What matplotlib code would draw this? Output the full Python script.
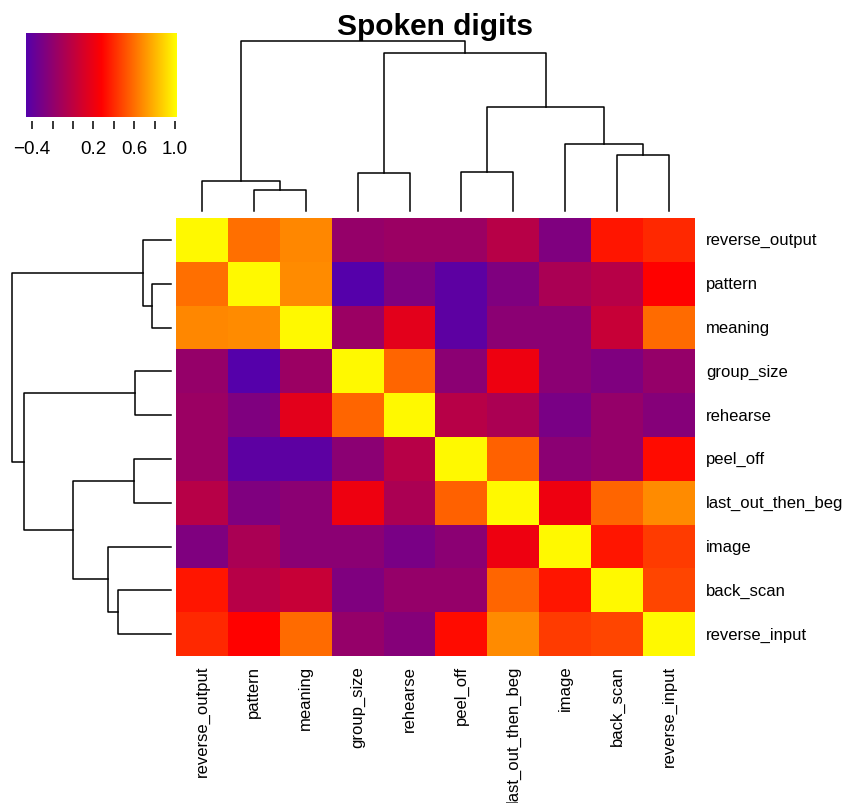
import numpy as np
import matplotlib

matplotlib.use("Agg")
import matplotlib.pyplot as plt
from matplotlib.colors import LinearSegmentedColormap

plt.rcParams["font.family"] = ["Liberation Sans", "DejaVu Sans"]

# ---------------------------------------------------------------------------
# Data (rows/columns already in dendrogram order)
# ---------------------------------------------------------------------------
labels = ["reverse_output", "pattern", "meaning", "group_size", "rehearse",
          "peel_off", "last_out_then_beg", "image", "back_scan", "reverse_input"]

# upper triangle of the correlation matrix, read row by row
upper = [
    [0.60, 0.67, -0.18, -0.15, -0.15, -0.03, -0.27, 0.34, 0.40],
    [0.68, -0.46, -0.27, -0.42, -0.27, -0.09, -0.03, 0.28],
    [-0.15, 0.16, -0.42, -0.22, -0.22, 0.04, 0.59],
    [0.57, -0.22, 0.21, -0.22, -0.27, -0.18],
    [-0.03, -0.08, -0.30, -0.18, -0.25],
    [0.56, -0.22, -0.18, 0.31],
    [0.21, 0.57, 0.68],
    [0.34, 0.45],
    [0.48],
]

# hierarchical clustering: leaves are 0..9, merge k gets node id 10+k
merge_pairs = [(1, 2), (0, 10), (3, 4), (5, 6), (8, 9), (7, 14), (13, 15), (12, 16), (11, 17)]
merge_heights = [0.121, 0.179, 0.225, 0.230, 0.331, 0.395, 0.614, 0.927, 1.0]

key_ticks = [-0.4, -0.2, 0.0, 0.2, 0.4, 0.6, 0.8, 1.0]
key_labels = ["\u22120.4", "", "", "0.2", "", "0.6", "", "1.0"]
vmin, vmax = -0.46, 1.02


def full_matrix(upper):
    n = len(upper) + 1
    m = np.eye(n)
    for i, row in enumerate(upper):
        for j, v in enumerate(row):
            m[i, i + 1 + j] = v
            m[i + 1 + j, i] = v
    return m


def dendro_segments(pairs, heights, n):
    """U-shaped segments (pos, height) of a dendrogram with leaves at 0..n-1."""
    pos = {i: float(i) for i in range(n)}
    hgt = {i: 0.0 for i in range(n)}
    segs = []
    for k, ((a, b), h) in enumerate(zip(pairs, heights)):
        segs.append([(pos[a], hgt[a]), (pos[a], h), (pos[b], h), (pos[b], hgt[b])])
        node = n + k
        pos[node] = (pos[a] + pos[b]) / 2
        hgt[node] = h
    return segs


mat = full_matrix(upper)
n = len(labels)
cmap = LinearSegmentedColormap.from_list("pry", ["#5500AA", "#FF0000", "#FFFF00"])

W, H = 845, 804
fig = plt.figure(figsize=(W / 100, H / 100), dpi=100)


def px_axes(x0, y0, x1, y1):
    return fig.add_axes([x0 / W, 1 - y1 / H, (x1 - x0) / W, (y1 - y0) / H])


# heatmap
hx0, hy0, hx1, hy1 = 176, 219, 695, 657
ax = px_axes(hx0, hy0, hx1, hy1)
ax.imshow(mat, cmap=cmap, vmin=vmin, vmax=vmax, aspect="auto", interpolation="nearest")
ax.set_xticks([])
ax.set_yticks([])
for s in ax.spines.values():
    s.set_visible(False)
for i, lab in enumerate(labels):
    ax.text(n - 0.5 + 0.21, i, lab, ha="left", va="center", fontsize=12)
    ax.text(i, n - 0.5 + 0.2, lab, ha="center", va="top", rotation=90, fontsize=12)

segs = dendro_segments(merge_pairs, merge_heights, n)

# column dendrogram (top)
axc = px_axes(hx0, 42, hx1, 212)
for seg in segs:
    xs, ys = zip(*seg)
    axc.plot(xs, ys, color="black", lw=1.1, clip_on=False)
axc.set_xlim(-0.5, n - 0.5)
axc.set_ylim(0, max(merge_heights))
axc.axis("off")

# row dendrogram (left)
axr = px_axes(12, hy0, 171, hy1)
for seg in segs:
    ys, xs = zip(*seg)
    axr.plot(xs, ys, color="black", lw=1.1, clip_on=False)
axr.set_ylim(n - 0.5, -0.5)
axr.set_xlim(max(merge_heights), 0)
axr.axis("off")

# colour key
axk = px_axes(26, 34, 177, 118)
grad = np.linspace(vmin, vmax, 256)[None, :]
axk.imshow(grad, cmap=cmap, vmin=vmin, vmax=vmax, aspect="auto",
           extent=[vmin, vmax, 0, 1])
axk.set_yticks([])
axk.set_xticks(key_ticks)
axk.set_xticklabels(key_labels)
axk.tick_params(axis="x", direction="out", length=6, width=1.1, pad=7.5, labelsize=13.5)
for name, s in axk.spines.items():
    s.set_visible(False)
axk.spines["bottom"].set_position(("outward", 3))

fig.text((hx0 + hx1) / 2 / W, 1 - 27 / H, "Spoken digits", ha="center", va="center",
         fontsize=21.5, fontweight="bold")

fig.savefig("out.png", dpi=100)
